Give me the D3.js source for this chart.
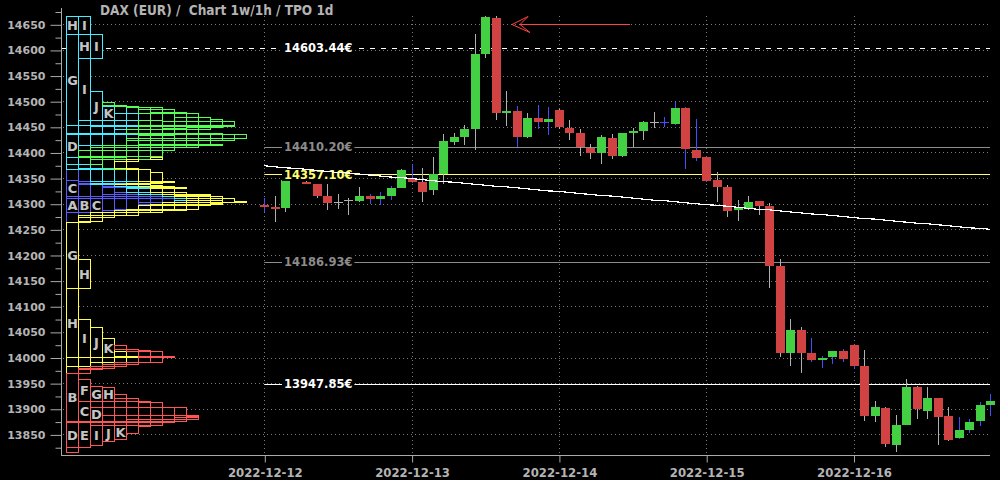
<!DOCTYPE html>
<html><head><meta charset="utf-8">
<script src="https://cdn.jsdelivr.net/npm/d3@7"></script>
<style>body{margin:0;background:#000}svg{display:block}</style>
</head><body><svg id="c" width="1000" height="480"></svg>
<script>
const dayLabels = ["2022-12-12","2022-12-13","2022-12-14","2022-12-15","2022-12-16"];
const tpoLetters = ["A","B","C","D","E","F","G","H","I","J","K","L","M","N"];
const dayColors = ["#5a5aff","#46ecff","#55ff55","#ffff44","#ff5555"];

const opens  = [14297,14294,14292,14349,14343,14338,14315,14304,14308,14305,14315,14309,14315,14331,
                14348,14342,14327,14358,14420,14430,14446,14592,14662,14477,14481,14430,14467,14459,
                14483,14448,14438,14409,14399,14428,14393,14438,14442,14459,14459,14456,14487,14405,
                14391,14346,14332,14288,14292,14305,14296,14178,14009,14054,14009,13995,14001,14012,
                14024,13983,13885,13901,13829,13868,13942,13896,13921,13885,13843,13858,13876,13907];
const highs  = [14311,14315,14347,14368,14344,14338,14338,14319,14312,14333,14319,14323,14335,14367,
                14377,14370,14391,14436,14437,14453,14631,14666,14666,14520,14490,14477,14493,14489,
                14484,14463,14446,14416,14434,14436,14438,14448,14461,14479,14469,14498,14488,14465,
                14391,14362,14336,14307,14315,14305,14301,14192,14075,14059,14038,14003,14012,14016,
                14024,14014,13915,13903,13887,13958,13944,13942,13921,13903,13884,13880,13913,13929];
const lows   = [14284,14265,14284,14347,14340,14312,14288,14290,14278,14303,14299,14297,14307,14331,
                14341,14303,14317,14339,14414,14414,14405,14584,14463,14452,14410,14428,14446,14434,
                14446,14424,14393,14387,14377,14387,14391,14410,14424,14448,14450,14454,14368,14383,
                14342,14303,14274,14266,14288,14278,14136,14001,13984,13969,13991,13980,13987,13991,
                13977,13877,13874,13825,13815,13868,13880,13880,13829,13837,13841,13852,13866,13885];
const closes = [14295,14290,14346,14362,14341,14315,14301,14304,14308,14315,14309,14315,14331,14366,
                14343,14323,14358,14422,14430,14446,14592,14664,14477,14481,14430,14467,14459,14465,
                14450,14438,14410,14399,14430,14393,14438,14442,14459,14459,14459,14487,14407,14389,
                14344,14332,14286,14293,14303,14296,14178,14009,14054,14009,13995,13999,14012,13997,
                13983,13885,13903,13831,13868,13942,13900,13921,13883,13839,13858,13874,13907,13915];
const blueWick = [1,0,0,0,0,0,0,0,0,0,1,1,1,0,
                  1,0,0,0,0,0,0,0,0,0,1,0,1,1,
                  0,0,0,0,0,0,0,0,0,0,1,1,1,1,
                  1,0,0,0,0,0,0,0,0,0,1,1,1,1,
                  1,0,0,0,0,0,0,0,0,0,1,1,1,1];
const maValues = [14374,14372,14370,14369,14367,14365,14363,14361,14360,14358,14356,14354,14352,14351,
                  14349,14347,14345,14343,14342,14340,14338,14336,14334,14333,14331,14329,14327,14325,
                  14324,14322,14320,14318,14316,14315,14313,14311,14309,14307,14306,14304,14302,14300,
                  14298,14297,14295,14293,14291,14289,14288,14286,14284,14282,14280,14279,14277,14275,
                  14273,14271,14270,14268,14266,14264,14262,14261,14259,14257,14255,14253,14252,14250];
const levelValues = [14603.44, 14410.20, 14357.10, 14186.93, 13947.85];
const levelLabels = ["14603.44€","14410.20€","14357.10€","14186.93€","13947.85€"];
const levelColors = ["#ffffff","#8c8c8c","#ffff70","#8c8c8c","#ffffff"];
const levelDashed = [1,0,0,0,0];
const yMajorTicks = [13850,13900,13950,14000,14050,14100,14150,14200,14250,14300,14350,14400,14450,14500,14550,14600,14650];
const yMinorTicks = [13825,13875,13925,13975,14025,14075,14125,14175,14225,14275,14325,14375,14425,14475,14525,14575,14625,14675];
const dayTickIdx = [0,14,28,42,56];
const titleText = "DAX (EUR) /  Chart 1w/1h / TPO 1d";

const svg = d3.select("#c");
const W=1000,H=480;
svg.append("rect").attr("width",W).attr("height",H).attr("fill","#000");
const y = d3.scaleLinear().domain([13850,14650]).range([434.4,24.3]);
const x = d3.scaleLinear().domain([0,69]).range([264.3,990.3]);
const plotL=61, plotR=990, plotB=455, plotT=8;
const gray="#b4b4b4";
const ry = v => Math.round(y(v));

// grid
const g0 = svg.append("g");
g0.selectAll("line.h").data(yMajorTicks).join("line")
  .attr("x1",plotL+2).attr("x2",plotR).attr("y1",d=>ry(d)+0.5).attr("y2",d=>ry(d)+0.5)
  .attr("stroke","#7a7a7a").attr("stroke-dasharray","1,3");
g0.selectAll("line.v").data(dayTickIdx).join("line")
  .attr("x1",d=>Math.round(x(d))+0.5).attr("x2",d=>Math.round(x(d))+0.5)
  .attr("y1",16).attr("y2",plotB)
  .attr("stroke","#7a7a7a").attr("stroke-dasharray","1,3");

// level lines
const lv = svg.append("g");
levelValues.forEach((v,i)=>{
  lv.append("line").attr("x1",levelDashed[i]?plotL+1:x(0)).attr("x2",plotR)
    .attr("y1",ry(v)+0.5).attr("y2",ry(v)+0.5)
    .attr("stroke",levelColors[i]).attr("stroke-width",1)
    .attr("stroke-dasharray",levelDashed[i]?"5,6":null);
});

// TPO composite profile
const candles = opens.map((o,i)=>({i,o,h:highs[i],l:lows[i],c:closes[i],day:Math.floor(i/14),letter:tpoLetters[i%14]}));
const bps = Array.from(new Set(candles.flatMap(d=>[d.h,d.l]))).sort((a,b)=>a-b);
const runs=[]; let state={};
for(let k=0;k<bps.length-1;k++){
  const lo=bps[k], hi=bps[k+1];
  const present=candles.filter(d=>d.l<=lo && d.h>=hi);
  const next={};
  present.forEach((d,col)=>{
    const s=state[col];
    if(s && s.cand===d && s.hi===lo){ s.hi=hi; next[col]=s; }
    else { if(s) runs.push(s); next[col]={cand:d,col,lo,hi}; }
  });
  Object.keys(state).forEach(col=>{ if(+col>=present.length) runs.push(state[col]); });
  state=next;
}
Object.values(state).forEach(s=>runs.push(s));
const colW=12, tpoX0=66;
const tg=svg.append("g");
runs.sort((a,b)=>a.cand.i-b.cand.i);
const rp = r=>{const x0=tpoX0+r.col*colW+0.5, y0=ry(r.hi)+0.5, y1=ry(r.lo)+0.5; return `M${x0},${y0}H${x0+colW}V${y1}H${x0}Z`;};
tg.selectAll("path.f").data(runs).join("path").attr("d",rp).attr("fill","#000").attr("stroke","none");
tg.selectAll("path.s").data(runs).join("path").attr("d",rp).attr("fill","none")
  .attr("stroke",d=>dayColors[d.cand.day]).attr("stroke-width",1).attr("shape-rendering","crispEdges");
tg.selectAll("text").data(runs.filter(r=>ry(r.lo)-ry(r.hi)>=13)).join("text")
  .attr("x",r=>tpoX0+r.col*colW+6.5).attr("y",r=>(ry(r.lo)+ry(r.hi))/2+5)
  .attr("text-anchor","middle").attr("fill","#c4c4c4")
  .attr("font-family","DejaVu Sans").attr("font-weight","bold").attr("font-size",13)
  .text(r=>r.cand.letter);

// candles
const cg=svg.append("g").attr("shape-rendering","crispEdges");
const bw=9;
candles.forEach(d=>{
  const cx=Math.round(x(d.i))+0.5;
  const wc=blueWick[d.i]?"#4a4aff":"#b0b0b0";
  cg.append("line").attr("x1",cx).attr("x2",cx).attr("y1",y(d.h)).attr("y2",y(d.l)).attr("stroke",wc);
  if(d.o===d.c){
    cg.append("line").attr("x1",cx-4.5).attr("x2",cx+4.5).attr("y1",ry(d.o)+0.5).attr("y2",ry(d.o)+0.5).attr("stroke",wc);
  } else {
    const top=y(Math.max(d.o,d.c)), bot=y(Math.min(d.o,d.c));
    cg.append("rect").attr("x",cx-4.5).attr("width",bw).attr("y",top).attr("height",Math.max(2,bot-top))
      .attr("fill",d.c>d.o?"#43d143":"#d14343");
  }
});

// level labels
const lg=svg.append("g");
levelValues.forEach((v,i)=>{
  const t=lg.append("text").attr("x",284).attr("y",y(v)+4.2).attr("fill",levelColors[i])
    .attr("font-family","DejaVu Sans").attr("font-weight","bold").attr("font-size",11.5).text(levelLabels[i]);
  const bb=t.node().getBBox();
  lg.insert("rect","text").attr("x",bb.x-2).attr("y",y(v)-6.5).attr("width",bb.width+4).attr("height",13).attr("fill","#000");
});
lg.selectAll("text").raise();

// MA line
svg.append("path").datum(maValues)
  .attr("d",d3.line().x((d,i)=>x(i)).y(d=>y(d)))
  .attr("fill","none").attr("stroke","#ffffff").attr("stroke-width",1.2).attr("shape-rendering","crispEdges");

// axes
const ax=svg.append("g");
ax.append("line").attr("x1",plotL+0.5).attr("x2",plotL+0.5).attr("y1",plotT).attr("y2",plotB+0.5).attr("stroke","#aaa");
ax.append("line").attr("x1",plotL).attr("x2",plotR).attr("y1",plotB+0.5).attr("y2",plotB+0.5).attr("stroke","#aaa");
const yAx=svg.append("g").attr("transform",`translate(${plotL+0.5},0.5)`)
  .call(d3.axisLeft(y).tickValues(yMajorTicks).tickSize(11).tickPadding(5).tickFormat(d3.format("d")));
yAx.select(".domain").remove();
yAx.selectAll("line").attr("stroke","#aaa");
yAx.selectAll("text").attr("fill",gray).attr("font-family","DejaVu Sans").attr("font-weight","bold").attr("font-size",11);
const yAx2=svg.append("g").attr("transform",`translate(${plotL+0.5},0.5)`)
  .call(d3.axisLeft(y).tickValues(yMinorTicks).tickSize(6).tickFormat(""));
yAx2.select(".domain").remove();
yAx2.selectAll("line").attr("stroke","#aaa");
const xAx=svg.append("g").attr("transform",`translate(0.5,${plotB+0.5})`)
  .call(d3.axisBottom(x).tickValues(dayTickIdx).tickSize(7).tickPadding(5).tickFormat((d,i)=>dayLabels[i]));
xAx.select(".domain").remove();
xAx.selectAll("line").attr("stroke","#aaa");
xAx.selectAll("text").attr("fill",gray).attr("font-family","DejaVu Sans Condensed, DejaVu Sans").attr("font-stretch","condensed")
  .attr("font-weight","bold").attr("font-size",13);

// title
svg.append("text").attr("x",100).attr("y",14.5).attr("fill",gray)
  .attr("font-family","DejaVu Sans Condensed, DejaVu Sans").attr("font-stretch","condensed")
  .attr("font-weight","bold").attr("font-size",13.5).attr("xml:space","preserve").text(titleText);

// red arrow
const ar=svg.append("g").attr("stroke","#ff4444").attr("fill","none");
ar.append("path").attr("d","M520,24.5H630");
ar.append("path").attr("d","M512,24.5L528,16.5L520,24.5L530,32.5Z");
</script></body></html>
